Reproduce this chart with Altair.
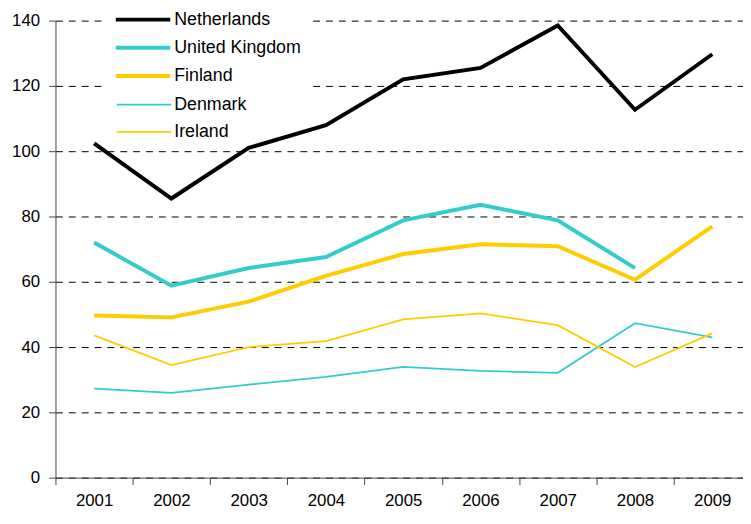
import altair as alt
import pandas as pd

years = ["2001", "2002", "2003", "2004", "2005", "2006", "2007", "2008", "2009"]
countries = ["Netherlands", "United Kingdom", "Finland", "Denmark", "Ireland"]
netherlands = [102.4, 85.5, 101.0, 108.0, 122.0, 125.5, 138.5, 112.7, 129.7]
united_kingdom = [72.0, 58.8, 64.2, 67.6, 78.8, 83.6, 78.8, 64.2, None]
finland = [49.7, 49.1, 53.9, 61.8, 68.5, 71.5, 70.9, 60.6, 77.0]
denmark = [27.3, 26.0, 28.5, 30.9, 33.9, 32.7, 32.1, 47.3, 43.0]
ireland = [43.6, 34.5, 40.0, 41.8, 48.5, 50.3, 46.7, 33.9, 44.2]
colors = ["#000000", "#33CCCC", "#FFCC00", "#33CCCC", "#FFCC00"]
y_ticks = [0, 20, 40, 60, 80, 100, 120, 140]

thick = countries[:3]
thin = countries[3:]

series = [netherlands, united_kingdom, finland, denmark, ireland]
rows = []
for name, vals in zip(countries, series):
    for yr, v in zip(years, vals):
        if v is not None:
            rows.append({"year": yr, "country": name, "value": v})
df = pd.DataFrame(rows)

FONT = "Liberation Sans"


def make_legend(x, y, pad, fill, sw):
    kw = dict(
        title=None,
        orient="none",
        legendX=x,
        legendY=y,
        padding=pad,
        symbolType="M-1,0H4.5",
        symbolSize=400,
        symbolStrokeWidth=sw,
        labelFont=FONT,
        labelFontSize=18,
        labelColor="black",
        labelOffset=37,
        rowPadding=7.5,
    )
    if fill:
        kw["fillColor"] = "white"
    return alt.Legend(**kw)


x_enc = alt.X(
    "year:O",
    sort=years,
    scale=alt.Scale(type="band", paddingInner=0, paddingOuter=0, range=[0, 703]),
    axis=alt.Axis(
        title=None,
        labelAngle=0,
        tickBand="extent",
        tickSize=7,
        tickColor="#444",
        domainColor="#444",
        labelFont=FONT,
        labelFontSize=17,
        labelColor="black",
        labelPadding=8,
        grid=False,
    ),
)
y_enc = alt.Y(
    "value:Q",
    scale=alt.Scale(domain=[0, 140], nice=False),
    axis=alt.Axis(
        title=None,
        values=y_ticks,
        tickSize=7,
        tickColor="#444",
        domainColor="#444",
        labelFont=FONT,
        labelFontSize=17,
        labelColor="black",
        labelPadding=9,
        grid=True,
        gridColor="black",
        gridDash=[7, 6],
        gridWidth=1,
    ),
)

base = alt.Chart(df)

thick_lines = (
    base.transform_filter(alt.FieldOneOfPredicate(field="country", oneOf=thick))
    .mark_line(strokeWidth=4)
    .encode(
        x=x_enc,
        y=y_enc,
        color=alt.Color(
            "country:N",
            sort=thick,
            scale=alt.Scale(domain=thick, range=colors[:3]),
            legend=make_legend(49, -23, 10, True, 4),
        ),
        order=alt.Order("year:O"),
    )
)

thin_lines = (
    base.transform_filter(alt.FieldOneOfPredicate(field="country", oneOf=thin))
    .mark_line(strokeWidth=1.8)
    .encode(
        x=x_enc,
        y=y_enc,
        color=alt.Color(
            "country:N",
            sort=thin,
            scale=alt.Scale(domain=thin, range=colors[3:]),
            legend=make_legend(61, 74, 0, False, 1.8),
        ),
        order=alt.Order("year:O"),
    )
)

chart = (
    alt.layer(thick_lines, thin_lines)
    .resolve_scale(color="independent")
    .resolve_legend(color="independent")
    .properties(
        width=695,
        height=462,
        autosize=alt.AutoSizeParams(type="none"),
        padding={"left": 48, "top": 10, "right": 0, "bottom": 34},
        background="white",
    )
    .configure_view(stroke=None)
)

chart.save("out.html", embed_options={"renderer": "svg", "actions": False})
